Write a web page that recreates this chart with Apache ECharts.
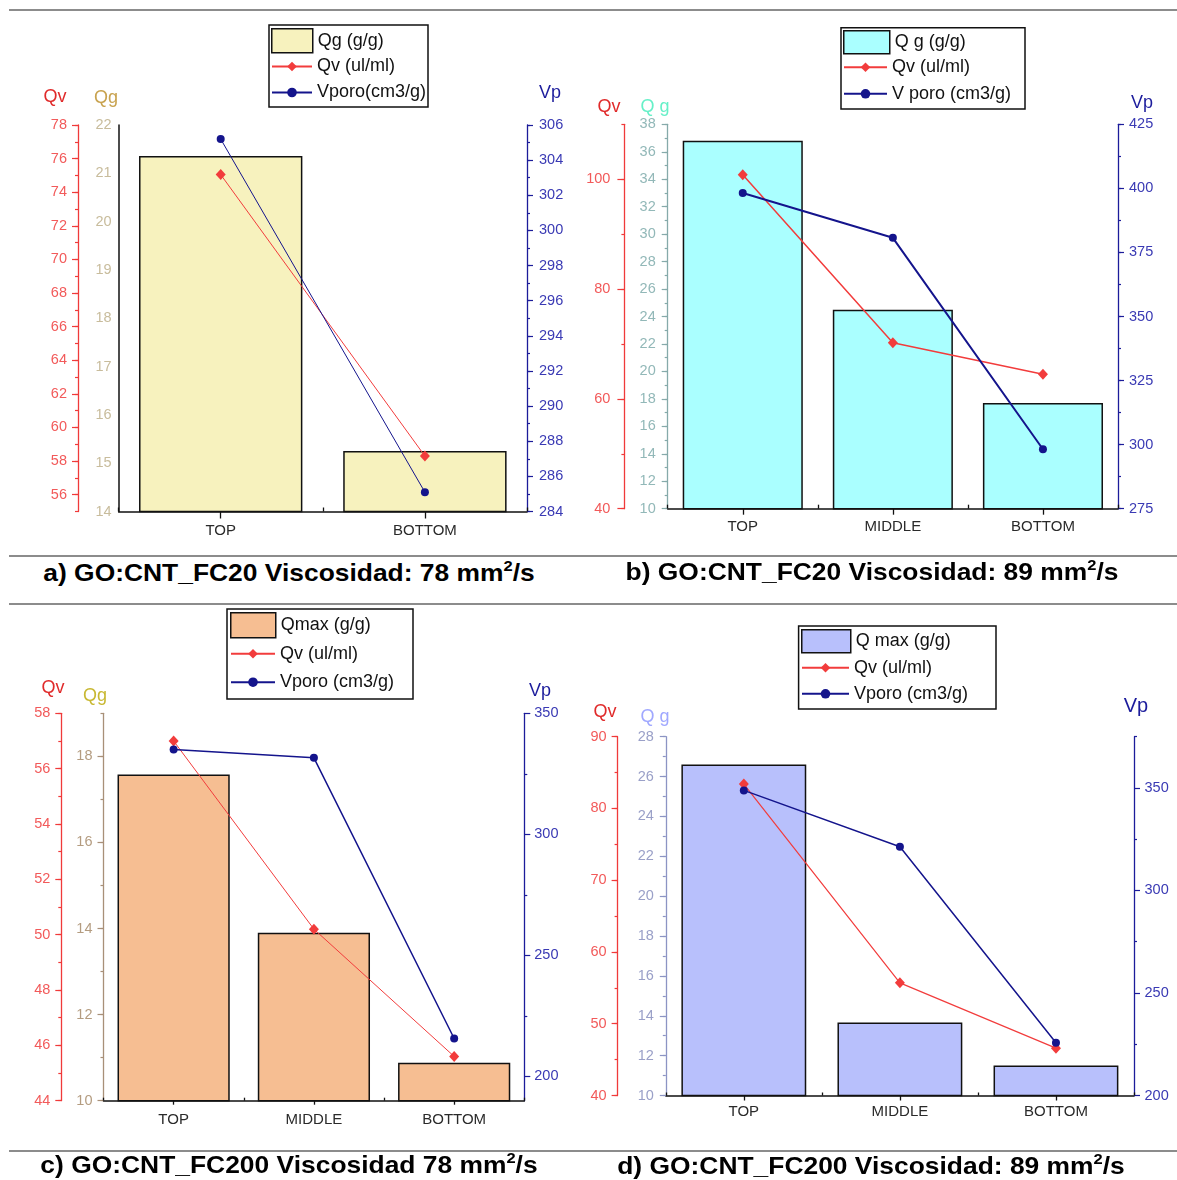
<!DOCTYPE html>
<html><head><meta charset="utf-8">
<script src="https://cdn.jsdelivr.net/npm/echarts@6/dist/echarts.min.js"></script>
<style>
html,body{margin:0;padding:0;background:#fff;}
body{width:1177px;height:1180px;overflow:hidden;position:relative;}
.p{position:absolute;}
.hr{position:absolute;left:9px;width:1168px;height:2px;background:#8c8c8c;}
.cap{position:absolute;font:bold 24px 'Liberation Sans',Arial,sans-serif;color:#000;white-space:nowrap;transform:translate(-50%,-50%) scaleX(1.1);line-height:28px;}
.cap sup{font-size:15px;vertical-align:0;position:relative;top:-10px;}
</style></head><body>
<div class="hr" style="top:9px"></div>
<div class="hr" style="top:555px"></div>
<div class="hr" style="top:603px"></div>
<div class="hr" style="top:1150px"></div>
<div id="pa" class="p" style="left:0;top:0;width:580px;height:556px"></div>
<div id="pb" class="p" style="left:580px;top:0;width:597px;height:556px"></div>
<div id="pc" class="p" style="left:0;top:604px;width:580px;height:546px"></div>
<div id="pd" class="p" style="left:580px;top:604px;width:597px;height:546px"></div>
<div class="cap" style="left:289px;top:574px">a) GO:CNT_FC20 Viscosidad: 78 mm<sup>2</sup>/s</div>
<div class="cap" style="left:872px;top:573px">b) GO:CNT_FC20 Viscosidad: 89 mm<sup>2</sup>/s</div>
<div class="cap" style="left:289px;top:1166px">c) GO:CNT_FC200 Viscosidad 78 mm<sup>2</sup>/s</div>
<div class="cap" style="left:871px;top:1167px">d) GO:CNT_FC200 Viscosidad: 89 mm<sup>2</sup>/s</div>
<script>
// ---------- data ----------
// Panel a
const catsA = ['TOP', 'BOTTOM'];
const qgA = [21.36, 15.25];
const qvA = [75.05, 58.3];
const vpA = [305.2, 285.1];
const namesA = ['Qg (g/g)', 'Qv (ul/ml)', 'Vporo(cm3/g)'];
const qgTicksA = [14, 15, 16, 17, 18, 19, 20, 21, 22];
const qvTicksA = [56, 58, 60, 62, 64, 66, 68, 70, 72, 74, 76, 78];
const vpTicksA = [284, 286, 288, 290, 292, 294, 296, 298, 300, 302, 304, 306];

// Panel b
const catsB = ['TOP', 'MIDDLE', 'BOTTOM'];
const qgB = [36.8, 24.5, 17.7];
const qvB = [100.8, 70.2, 64.5];
const vpB = [398.2, 380.7, 298.2];
const namesB = ['Q g (g/g)', 'Qv (ul/ml)', 'V poro (cm3/g)'];
const qgTicksB = [10, 12, 14, 16, 18, 20, 22, 24, 26, 28, 30, 32, 34, 36, 38];
const qvTicksB = [40, 60, 80, 100];
const vpTicksB = [275, 300, 325, 350, 375, 400, 425];

// Panel c
const catsC = ['TOP', 'MIDDLE', 'BOTTOM'];
const qgC = [17.58, 13.9, 10.88];
const qvC = [57.0, 50.2, 45.6];
const vpC = [335.1, 331.6, 215.7];
const namesC = ['Qmax (g/g)', 'Qv (ul/ml)', 'Vporo (cm3/g)'];
const qgTicksC = [10, 12, 14, 16, 18];
const qvTicksC = [44, 46, 48, 50, 52, 54, 56, 58];
const vpTicksC = [200, 250, 300, 350];

// Panel d
const catsD = ['TOP', 'MIDDLE', 'BOTTOM'];
const qgD = [26.6, 13.66, 11.5];
const qvD = [83.4, 55.7, 46.6];
const vpD = [348.8, 321.3, 225.7];
const namesD = ['Q max (g/g)', 'Qv (ul/ml)', 'Vporo (cm3/g)'];
const qgTicksD = [10, 12, 14, 16, 18, 20, 22, 24, 26, 28];
const qvTicksD = [40, 50, 60, 70, 80, 90];
const vpTicksD = [200, 250, 300, 350];

// ---------- style ----------
const NARROW = "'Liberation Sans Narrow','Arial Narrow','Liberation Sans',sans-serif";
const SANS = "'Liberation Sans',Arial,sans-serif";
const RED = '#f23c3c';
const NAVY = '#14148c';
const RED_AX = '#f03a3a', RED_LB = '#f25a5a';
const NAVY_AX = '#1c1c9a', NAVY_LB = '#3a3ab4';

function steps(a, b, s) { const r = []; for (let v = a; v <= b + 1e-9; v += s) r.push(Math.round(v * 1000) / 1000); return r; }

function valueAxis(ax, pos, offset) {
  return {
    type: 'value', position: pos, offset: offset, min: ax.min, max: ax.max,
    axisLine: { show: true, onZero: false, lineStyle: { color: ax.line, width: ax.lw || 1.3 } },
    axisTick: { show: ax.showTick !== false, customValues: ax.major, length: ax.tl || 6, lineStyle: { color: ax.line, width: 1.2 } },
    axisLabel: { show: true, customValues: ax.major, color: ax.label, fontFamily: NARROW, fontSize: 14.5, margin: ax.margin },
    splitLine: { show: false }
  };
}
function ghostAxis(ax, pos, offset) {
  const has = !!(ax.minor && ax.minor.length);
  return {
    type: 'value', position: pos, offset: offset, min: ax.min, max: ax.max,
    axisLine: { show: false, onZero: false }, axisLabel: { show: false }, splitLine: { show: false },
    axisTick: { show: has, customValues: has ? ax.minor : [], length: 3, lineStyle: { color: ax.line, width: 1.2 } }
  };
}

function makePanel(P) {
  const chart = echarts.init(document.getElementById(P.id), null, { renderer: 'canvas' });
  const g = P.grid;
  const xBase = { type: 'category', data: P.cats, gridIndex: 0, position: 'bottom', boundaryGap: true };
  const xs = [
    Object.assign({}, xBase, {
      axisLine: { onZero: false, lineStyle: { color: '#111', width: 1.5 } },
      axisTick: { show: true, alignWithLabel: true, length: P.xt[0], lineStyle: { color: '#111', width: 1.3 } },
      axisLabel: { color: '#2a2a2a', fontFamily: NARROW, fontSize: 15, margin: P.xm },
      splitLine: { show: false }
    }),
    Object.assign({}, xBase, {
      axisLine: { show: false, onZero: false },
      axisTick: { show: P.xt[1] > 0, inside: true, alignWithLabel: true, length: P.xt[1], lineStyle: { color: '#111', width: 1.3 } },
      axisLabel: { show: false }, splitLine: { show: false }
    }),
    Object.assign({}, xBase, {
      axisLine: { show: false, onZero: false },
      axisTick: { show: true, inside: true, alignWithLabel: false, length: P.xt[2], lineStyle: { color: '#111', width: 1.3 } },
      axisLabel: { show: false }, splitLine: { show: false }
    })
  ];
  const L = P.leg;
  const f = L.frame;
  const option = {
    animation: false,
    grid: { left: g[0], top: g[1], width: g[2], height: g[3], containLabel: false },
    xAxis: xs,
    yAxis: [
      valueAxis(P.qg, 'left', 0),
      valueAxis(P.qv, 'left', P.qvOffset),
      valueAxis(P.vp, 'right', 0),
      ghostAxis(P.qg, 'left', 0),
      ghostAxis(P.qv, 'left', P.qvOffset),
      ghostAxis(P.vp, 'right', 0)
    ],
    legend: [
      {
        data: [{ name: P.names[0], icon: 'rect' }], left: L.x, top: L.barTop, orient: 'vertical',
        itemWidth: L.sw, itemHeight: L.sh, padding: 0, selectedMode: false, z: 6,
        itemStyle: { color: P.barColor, borderColor: '#111', borderWidth: 1.5 },
        textStyle: { fontFamily: SANS, fontSize: 18, color: '#111' }
      },
      {
        data: [P.names[1], P.names[2]], left: L.x, top: L.lineTop, orient: 'vertical',
        itemWidth: L.lw, itemHeight: 12, itemGap: L.gap, padding: 0, selectedMode: false, z: 6,
        textStyle: { fontFamily: SANS, fontSize: 18, color: '#111', lineHeight: 12 }
      }
    ],
    graphic: [
      { type: 'rect', shape: { x: f[0], y: f[1], width: f[2], height: f[3] }, style: { fill: '#fff', stroke: '#111', lineWidth: 1.5 }, z: 1 }
    ].concat(P.titles.map(t => ({
      type: 'text', x: t.x, y: t.y, z: 5,
      style: { text: t.text, fill: t.color, font: (t.size || 18) + 'px ' + NARROW, align: 'center', verticalAlign: 'middle' }
    }))),
    series: [
      { type: 'bar', name: P.names[0], xAxisIndex: 0, yAxisIndex: 0, data: P.qgData, barWidth: '80%',
        itemStyle: { color: P.barColor, borderColor: '#111', borderWidth: 1.5 }, z: 2 },
      { type: 'line', name: P.names[1], xAxisIndex: 0, yAxisIndex: 1, data: P.qvData, symbol: 'diamond', symbolSize: [10, 11],
        lineStyle: { color: RED, width: P.lw[0] }, itemStyle: { color: RED }, z: 3 },
      { type: 'line', name: P.names[2], xAxisIndex: 0, yAxisIndex: 2, data: P.vpData, symbol: 'circle', symbolSize: 8,
        lineStyle: { color: NAVY, width: P.lw[1] }, itemStyle: { color: NAVY }, z: 4 }
    ]
  };
  chart.setOption(option);
}

// Panel a
makePanel({
  id: 'pa', cats: catsA, qgData: qgA, qvData: qvA, vpData: vpA, names: namesA,
  barColor: '#f7f2be',
  grid: [118.6, 125, 408.4, 386.5], qvOffset: 40.6,
  qg: { min: 14, max: 22, major: qgTicksA, minor: [], showTick: false, line: '#111', lw: 1.5, label: '#c8bc9c', margin: 7 },
  qv: { min: 55, max: 78, major: qvTicksA, minor: steps(55, 78, 1), line: RED_AX, label: RED_LB, margin: 11 },
  vp: { min: 284, max: 306, major: vpTicksA, minor: steps(284, 306, 1), line: NAVY_AX, label: NAVY_LB, margin: 12 },
  xt: [7, 7, 4], xm: 11.5, lw: [1, 1],
  leg: { frame: [269, 25, 159, 82], x: 271, barTop: 28, sw: 41, sh: 24, lineTop: 57.5, lw: 40, gap: 8 },
  titles: [
    { text: 'Qv', x: 55, y: 97, color: '#e02a2a' },
    { text: 'Qg', x: 106, y: 98, color: '#c8a24e' },
    { text: 'Vp', x: 550, y: 93, color: '#1c1c9c' }
  ]
});

// Panel b
makePanel({
  id: 'pb', cats: catsB, qgData: qgB, qvData: qvB, vpData: vpB, names: namesB,
  barColor: '#aaffff',
  grid: [87.7, 124.3, 450.3, 384.4], qvOffset: 43.3,
  qg: { min: 10, max: 38, major: qgTicksB, minor: steps(10, 38, 1), line: '#86aaaa', label: '#92b8b8', margin: 12 },
  qv: { min: 40, max: 110, major: qvTicksB, minor: steps(40, 110, 10), line: RED_AX, label: RED_LB, margin: 14, tl: 7 },
  vp: { min: 275, max: 425, major: vpTicksB, minor: steps(275, 425, 12.5), line: NAVY_AX, label: NAVY_LB, margin: 11 },
  xt: [6, 8, 4], xm: 11, lw: [1.5, 2],
  leg: { frame: [261, 27.7, 184, 81.3], x: 263, barTop: 30, sw: 46, sh: 23, lineTop: 58.2, lw: 43, gap: 8.6 },
  titles: [
    { text: 'Qv', x: 29, y: 107, color: '#e02a2a' },
    { text: 'Q g', x: 75, y: 107, color: '#66f0c8' },
    { text: 'Vp', x: 562, y: 103, color: '#1c1c9c' }
  ]
});

// Panel c
makePanel({
  id: 'pc', cats: catsC, qgData: qgC, qvData: qvC, vpData: vpC, names: namesC,
  barColor: '#f6be92',
  grid: [103.5, 109.3, 420.8, 387.4], qvOffset: 42.2,
  qg: { min: 10, max: 19, major: qgTicksC, minor: steps(10, 19, 1), line: '#a89078', label: '#b49c80', margin: 11 },
  qv: { min: 44, max: 58, major: qvTicksC, minor: steps(44, 58, 1), line: RED_AX, label: RED_LB, margin: 11 },
  vp: { min: 190, max: 350, major: vpTicksC, minor: [225, 275, 325], line: NAVY_AX, label: NAVY_LB, margin: 10 },
  xt: [4, 8, 3], xm: 11.5, lw: [1, 1.5],
  leg: { frame: [227, 5, 186, 90], x: 230, barTop: 8, sw: 45, sh: 25, lineTop: 40.8, lw: 44, gap: 10.4 },
  titles: [
    { text: 'Qv', x: 53, y: 84, color: '#e02a2a' },
    { text: 'Qg', x: 95, y: 92, color: '#c8b832' },
    { text: 'Vp', x: 540, y: 87, color: '#1c1c9c' }
  ]
});

// Panel d
makePanel({
  id: 'pd', cats: catsD, qgData: qgD, qvData: qvD, vpData: vpD, names: namesD,
  barColor: '#b8c0fc',
  grid: [85.8, 132.7, 468.2, 358.8], qvOffset: 48.2,
  qg: { min: 10, max: 28, major: qgTicksD, minor: steps(10, 28, 1), line: '#8c94c4', label: '#9aa0c8', margin: 12 },
  qv: { min: 40, max: 90, major: qvTicksD, minor: steps(40, 90, 5), line: RED_AX, label: RED_LB, margin: 11 },
  vp: { min: 200, max: 375, major: vpTicksD, minor: [225, 275, 325, 375], line: NAVY_AX, label: NAVY_LB, margin: 10.5 },
  xt: [5, 0, 3], xm: 8.5, lw: [1.2, 1.5],
  leg: { frame: [218.6, 22, 197.4, 83], x: 221, barTop: 25, sw: 49, sh: 23, lineTop: 54.8, lw: 47, gap: 8 },
  titles: [
    { text: 'Qv', x: 25, y: 107.7, color: '#e02a2a' },
    { text: 'Q g', x: 75, y: 112.7, color: '#a0a8ff' },
    { text: 'Vp', x: 556, y: 102, color: '#1c1c9c', size: 20 }
  ]
});
</script>
</body></html>
